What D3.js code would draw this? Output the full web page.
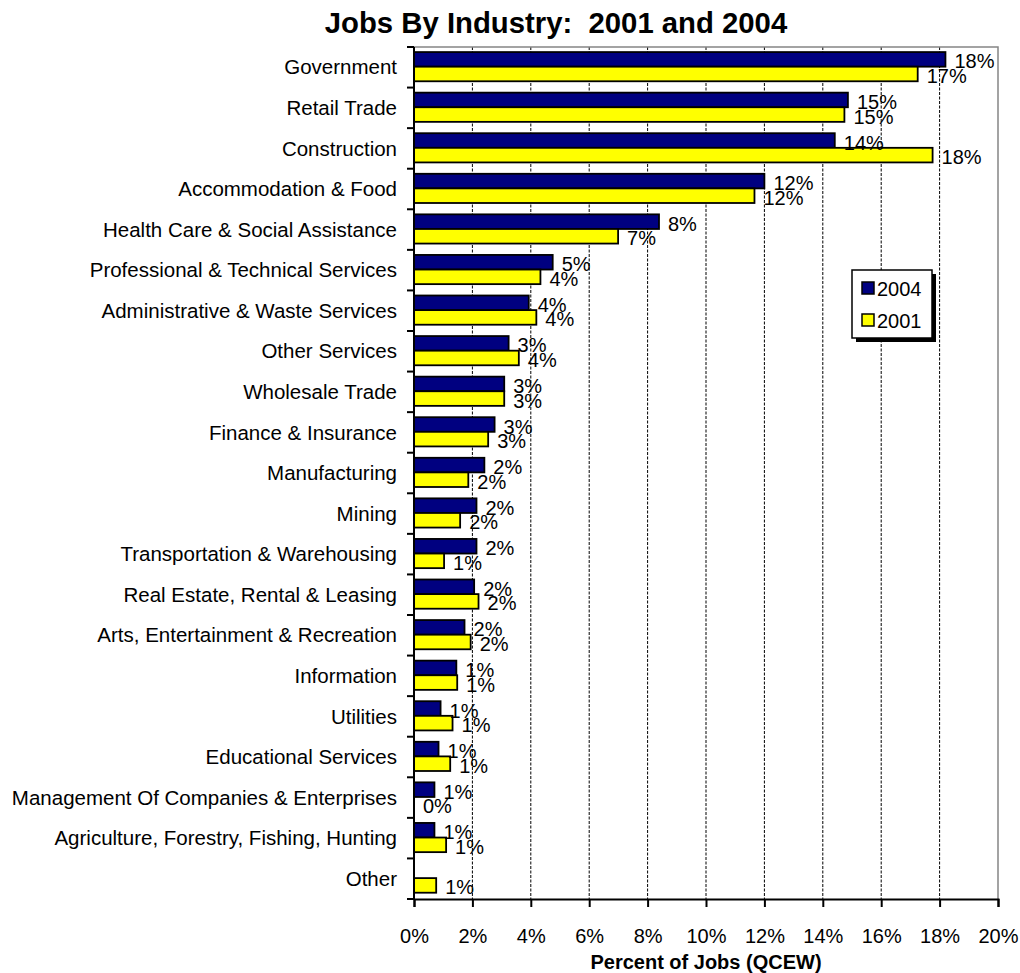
<!DOCTYPE html>
<html>
<head>
<meta charset="utf-8">
<script src="https://cdn.jsdelivr.net/npm/d3@7"></script>
<style>
  html, body { margin: 0; padding: 0; background: #fff; }
  svg { display: block; font-family: "Liberation Sans", Arial, sans-serif; }
</style>
</head>
<body>
<svg id="chart" width="1020" height="973"></svg>
<script>
// Industry categories, largest share of 2004 jobs first
const categories = [
  "Government",
  "Retail Trade",
  "Construction",
  "Accommodation & Food",
  "Health Care & Social Assistance",
  "Professional & Technical Services",
  "Administrative & Waste Services",
  "Other Services",
  "Wholesale Trade",
  "Finance & Insurance",
  "Manufacturing",
  "Mining",
  "Transportation & Warehousing",
  "Real Estate, Rental & Leasing",
  "Arts, Entertainment & Recreation",
  "Information",
  "Utilities",
  "Educational Services",
  "Management Of Companies & Enterprises",
  "Agriculture, Forestry, Fishing, Hunting",
  "Other"
];

// Percent of jobs (QCEW)
const jobs2004 = [18.2, 14.86, 14.41, 12.0, 8.39, 4.75, 3.93, 3.24, 3.09, 2.76,
                  2.41, 2.14, 2.14, 2.06, 1.73, 1.45, 0.91, 0.84, 0.70, 0.70, null];
const jobs2001 = [17.25, 14.74, 17.76, 11.66, 6.99, 4.33, 4.19, 3.59, 3.09, 2.54,
                  1.86, 1.58, 1.03, 2.21, 1.94, 1.48, 1.32, 1.24, 0.0, 1.10, 0.76];

const seriesNames = ["2004", "2001"];
const seriesColors = ["#000080", "#FFFF00"];
const xTicks = [0, 2, 4, 6, 8, 10, 12, 14, 16, 18, 20];

const svg = d3.select("#chart");
const plotLeft = 414, plotRight = 998, plotTop = 47, plotBottom = 899;

const x = d3.scaleLinear().domain([0, 20]).range([plotLeft, plotRight]);
const y = d3.scaleBand().domain(categories).range([plotTop, plotBottom]).padding(0);
const bw = y.bandwidth();
const y1 = d3.scaleBand().domain(seriesNames).range([bw * 0.125, bw * 0.845]).padding(0);

// Title
svg.append("text")
  .attr("x", 556).attr("y", 33)
  .attr("text-anchor", "middle")
  .attr("font-weight", "bold")
  .attr("font-size", 29.3)
  .text("Jobs By Industry:\u00a0\u00a02001 and 2004");

// Vertical dotted gridlines
svg.append("g").selectAll("line")
  .data(xTicks.filter(d => d > 0 && d < 20))
  .join("line")
  .attr("x1", d => x(d)).attr("x2", d => x(d))
  .attr("y1", plotTop).attr("y2", plotBottom)
  .attr("stroke", "#000")
  .attr("stroke-width", 1)
  .attr("stroke-dasharray", "3,1.5");

// Plot frame (top and right edges)
svg.append("path")
  .attr("d", `M${plotLeft},${plotTop}H${plotRight}V${plotBottom}`)
  .attr("fill", "none")
  .attr("stroke", "#858585")
  .attr("stroke-width", 1.5);

// Bars
const rows = categories.map((c, i) => ({
  cat: c,
  values: [
    { key: "2004", v: jobs2004[i], color: seriesColors[0] },
    { key: "2001", v: jobs2001[i], color: seriesColors[1] }
  ]
}));

const groups = svg.append("g").selectAll("g")
  .data(rows)
  .join("g")
  .attr("transform", d => `translate(0,${y(d.cat)})`);

groups.selectAll("rect")
  .data(d => d.values.filter(v => v.v !== null && v.v > 0))
  .join("rect")
  .attr("x", x(0))
  .attr("y", d => y1(d.key))
  .attr("width", d => x(d.v) - x(0))
  .attr("height", y1.bandwidth())
  .attr("fill", d => d.color)
  .attr("stroke", "#000")
  .attr("stroke-width", 1.8);

// Value labels
groups.selectAll("text")
  .data(d => d.values.filter(v => v.v !== null))
  .join("text")
  .attr("x", d => x(d.v) + 9)
  .attr("y", d => y1(d.key) + y1.bandwidth() / 2 + 9)
  .attr("font-size", 20)
  .attr("fill", "#000")
  .text(d => Math.round(d.v) + "%");

// Left axis: line, boundary ticks and category labels
const leftAxis = svg.append("g");
leftAxis.append("line")
  .attr("x1", plotLeft).attr("x2", plotLeft)
  .attr("y1", plotTop).attr("y2", plotBottom)
  .attr("stroke", "#000").attr("stroke-width", 2);
leftAxis.selectAll("line.tick")
  .data(d3.range(categories.length + 1))
  .join("line")
  .attr("class", "tick")
  .attr("x1", plotLeft - 7).attr("x2", plotLeft)
  .attr("y1", i => plotTop + i * y.step())
  .attr("y2", i => plotTop + i * y.step())
  .attr("stroke", "#000").attr("stroke-width", 2);
leftAxis.selectAll("text")
  .data(categories)
  .join("text")
  .attr("x", 397)
  .attr("y", d => y(d) + bw / 2)
  .attr("dy", "0.35em")
  .attr("text-anchor", "end")
  .attr("font-size", 20.5)
  .text(d => d);

// Bottom axis
const xAxis = d3.axisBottom(x)
  .tickValues(xTicks)
  .tickFormat(d => d + "%")
  .tickSize(8)
  .tickPadding(22);
const gx = svg.append("g")
  .attr("transform", `translate(0,${plotBottom})`)
  .call(xAxis);
gx.select(".domain").attr("stroke", "#000").attr("stroke-width", 2);
gx.selectAll(".tick line").attr("stroke", "#000").attr("stroke-width", 2);
gx.selectAll(".tick text")
  .attr("font-size", 20)
  .attr("font-family", "\"Liberation Sans\", Arial, sans-serif")
  .attr("fill", "#000");

// Axis title
svg.append("text")
  .attr("x", (plotLeft + plotRight) / 2).attr("y", 969)
  .attr("text-anchor", "middle")
  .attr("font-weight", "bold")
  .attr("font-size", 20)
  .text("Percent of Jobs (QCEW)");

// Legend with drop shadow
const legend = svg.append("g").attr("transform", "translate(852,270)");
legend.append("rect")
  .attr("x", 4).attr("y", 4).attr("width", 80).attr("height", 68)
  .attr("fill", "#000");
legend.append("rect")
  .attr("x", 0).attr("y", 0).attr("width", 80).attr("height", 68)
  .attr("fill", "#fff").attr("stroke", "#000").attr("stroke-width", 1.5);
const items = legend.selectAll("g.item")
  .data(seriesNames.map((s, i) => ({ name: s, color: seriesColors[i] })))
  .join("g")
  .attr("class", "item")
  .attr("transform", (d, i) => `translate(0,${12 + i * 32})`);
items.append("rect")
  .attr("x", 10).attr("y", 0).attr("width", 12).attr("height", 12)
  .attr("fill", d => d.color).attr("stroke", "#000").attr("stroke-width", 1.5);
items.append("text")
  .attr("x", 25).attr("y", 14)
  .attr("font-size", 20)
  .text(d => d.name);
</script>
</body>
</html>
